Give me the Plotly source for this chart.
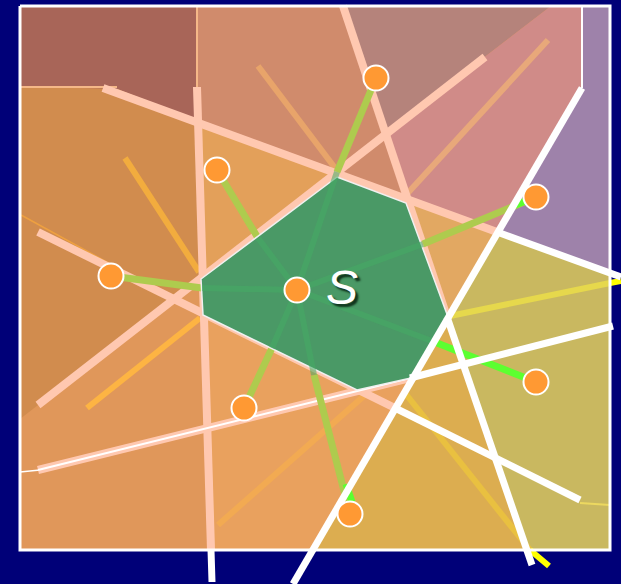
import plotly.graph_objects as go

W, H = 621, 584
BG = "#000078"

# ---- sites (orange circles) ----
site_x = [376, 217, 536, 111, 297, 536, 244, 350]
site_y = [78, 170, 197, 276, 290, 382, 408, 514]

# ---- outer frame ----
frame_x = [20, 610, 610, 20, 20]
frame_y = [6, 6, 550, 550, 6]

# ---- region polygons ----
dark_x = [20, 197, 197, 117, 20]
dark_y = [6, 6, 120, 89, 87]
tan_x = [20, 117, 200, 202, 20]
tan_y = [87, 89, 122, 278, 419]
midlight_x = [202, 337, 202]
midlight_y = [123, 174, 279]
salmon_x = [197, 343, 408, 197]
salmon_y = [6, 6, 199, 122]
mauve_x = [343, 551, 383]
mauve_y = [6, 6, 135]
pink_x = [551, 582, 582, 497, 408, 383]
pink_y = [6, 6, 88, 232, 199, 135]
purple_x = [582, 610, 610, 497, 582]
purple_y = [6, 6, 273, 232, 88]
olive_x = [497, 610, 610, 527, 448]
olive_y = [232, 273, 550, 550, 317]
gold_x = [448, 527, 313]
gold_y = [317, 550, 550]
orng_x = [406, 497, 448]
orng_y = [200, 232, 317]
below_x = [203, 357, 411, 313, 212]
below_y = [315, 390, 378, 550, 550]

region_names = ["dark", "tan", "midlight", "salmon", "mauve", "pink", "purple", "olive", "gold", "orng", "below"]
region_colors = ["#a86558", "#d18c4e", "#e3a05a", "#d08b6c", "#b5837b", "#d08b88",
                 "#9e82aa", "#c9b860", "#dcad50", "#e2a862", "#e9a15e"]
region_xs = [dark_x, tan_x, midlight_x, salmon_x, mauve_x, pink_x, purple_x, olive_x, gold_x, orng_x, below_x]
region_ys = [dark_y, tan_y, midlight_y, salmon_y, mauve_y, pink_y, purple_y, olive_y, gold_y, orng_y, below_y]

# ---- green cell S ----
green_x = [337, 406, 448, 411, 357, 203, 201, 337]
green_y = [177, 203, 317, 378, 390, 315, 279, 177]

# ---- thick lines: (x0, y0, x1, y1) ----
pink_lines = [
    (103, 88, 497, 232),   # L1 pink part
    (197, 87, 211, 550),   # L2 vertical
    (485, 57, 38, 405),    # L4
    (38, 232, 395, 408),   # L5 pink part
    (38, 470, 410, 378),   # L6 pink part
    (343, 6, 447, 317),    # L3 pink part
]
white_lines = [
    (582, 88, 293, 584),   # L7 diagonal
    (497, 232, 621, 277),  # L1 white part
    (447, 317, 532, 565),  # L3 white part
    (395, 408, 580, 500),  # L5 white part
    (410, 378, 613, 326),  # L6 white part
    (211, 550, 212, 582),  # L2 tail
]
warm_lines = [
    (125, 158, 199, 272, "#f2ac3e"),
    (87, 408, 200, 318, "#fdb443"),
    (258, 66, 335, 168, "#e8a46a"),
    (548, 40, 406, 195, "#e8a87a"),
    (218, 525, 365, 395, "#f2aa52"),
    (405, 393, 530, 550, "#e9c040"),
    (530, 550, 549, 566, "#ffff00"),
    (450, 316, 610, 283, "#e6d84c"),
    (610, 283, 621, 281, "#ffff00"),
]
lime_lines = [
    (376, 78, 337, 172),
    (217, 170, 258, 238),
    (536, 197, 423, 244),
    (111, 276, 202, 288),
    (244, 408, 272, 348),
    (350, 514, 314, 375),
]
bright_lines = [
    (536, 382, 437, 343),
    (536, 197, 515, 205),
    (352, 502, 346, 484),
]

fig = go.Figure()

def seg(x0, y0, x1, y1, color, width):
    fig.add_trace(go.Scatter(x=[x0, x1], y=[y0, y1], mode="lines",
                             line=dict(color=color, width=width),
                             hoverinfo="skip", showlegend=False))

# base square
fig.add_trace(go.Scatter(x=frame_x, y=frame_y, fill="toself", fillcolor="#e0975a",
                         mode="lines", line=dict(width=0), hoverinfo="skip", showlegend=False))
for name, c, xs, ys in zip(region_names, region_colors, region_xs, region_ys):
    fig.add_trace(go.Scatter(x=xs + [xs[0]], y=ys + [ys[0]], fill="toself", fillcolor=c,
                             mode="lines", line=dict(width=0), name=name,
                             hoverinfo="skip", showlegend=False))

# thin boundaries
seg(20, 87, 117, 87, "#f5b888", 2)
seg(197, 6, 197, 88, "#f5b888", 2)
seg(582, 6, 582, 88, "#ffffff", 2)
seg(21, 215, 200, 313, "#eea040", 1.5)
seg(580, 503, 610, 505, "#ecd860", 2)
seg(20, 472, 40, 470, "#ffffff", 1.5)

for x0, y0, x1, y1, c in warm_lines:
    seg(x0, y0, x1, y1, c, 6)
for x0, y0, x1, y1 in pink_lines:
    seg(x0, y0, x1, y1, "#ffc8b0", 8)
seg(38, 470, 410, 378, "#ffffff", 2)
for x0, y0, x1, y1 in lime_lines:
    seg(x0, y0, x1, y1, "#aecb4e", 7)
for x0, y0, x1, y1 in bright_lines:
    seg(x0, y0, x1, y1, "#5cff30", 7)

# green cell
fig.add_trace(go.Scatter(x=green_x, y=green_y, fill="toself", fillcolor="#4a9966",
                         mode="lines", line=dict(color="#f0f0f0", width=1.5),
                         hoverinfo="skip", showlegend=False))
for x0, y0, x1, y1 in lime_lines + bright_lines[:1]:
    seg(site_x[4], site_y[4], x1, y1, "rgba(70,172,100,0.55)", 6)

for x0, y0, x1, y1 in white_lines:
    seg(x0, y0, x1, y1, "#ffffff", 7)

# frame
fig.add_trace(go.Scatter(x=frame_x, y=frame_y, mode="lines",
                         line=dict(color="#ffffff", width=3),
                         hoverinfo="skip", showlegend=False))

# sites
fig.add_trace(go.Scatter(x=site_x, y=site_y, mode="markers",
                         marker=dict(size=25, color="#ff9933",
                                     line=dict(color="#ffffff", width=2)),
                         hoverinfo="skip", showlegend=False))

fig.add_annotation(x=342, y=287, text="<i>S</i>", showarrow=False,
                   font=dict(family="Liberation Sans, Arial", size=48, color="#ffffff",
                             shadow="3px 3px 2px rgba(10,40,20,0.9)"))

fig.update_layout(
    width=W, height=H, margin=dict(l=0, r=0, t=0, b=0),
    paper_bgcolor=BG, plot_bgcolor=BG,
    xaxis=dict(range=[0, W], visible=False, fixedrange=True),
    yaxis=dict(range=[H, 0], visible=False, fixedrange=True),
    showlegend=False,
)
fig.write_html("out.html", config={"displayModeBar": False},
               post_script="document.body.style.margin='0';document.body.style.overflow='hidden';")
